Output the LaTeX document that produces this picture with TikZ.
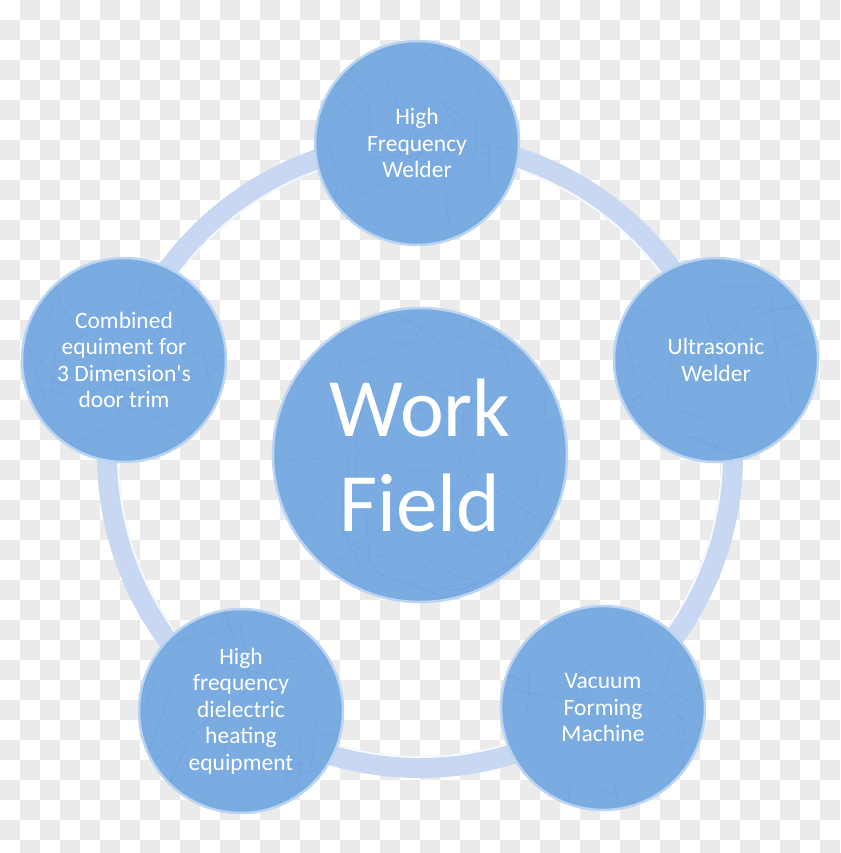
\documentclass[tikz,border=0pt]{standalone}
\usepackage{fontspec}
\setmainfont{Carlito}[Ligatures=TeXOff]
\definecolor{bubble}{RGB}{122,171,225}
\definecolor{rim}{RGB}{186,212,242}
\definecolor{ringc}{RGB}{200,216,242}
\definecolor{check}{RGB}{235,235,235}
\definecolor{scr}{RGB}{85,145,212}
\begin{document}
\begin{tikzpicture}[x=1pt,y=-1pt,
  scratch/.style={draw=scr, line width=0.4pt, opacity=0.3},
  bub/.style={circle, fill=bubble, draw=rim, line width=2.5pt, inner sep=0pt,
    minimum size=204pt, text=white, align=center,
    font=\fontsize{23.5}{26.5}\selectfont,
    path picture={\foreach \k in {1,...,80}{%
      \pgfmathsetmacro\ax{(rnd-0.5)*300}%
      \pgfmathsetmacro\ay{(rnd-0.5)*300}%
      \pgfmathsetmacro\an{rnd*180+20}%
      \pgfmathsetmacro\ln{rnd*60+25}%
      \path[scratch] ([shift={(\ax pt,\ay pt)}]path picture bounding box.center) -- ++(\an:\ln pt);}}},
  ringline/.style={draw=ringc, line width=22pt},
  ringhi/.style={draw=white, line width=2pt, opacity=0.85}]
\pgfmathsetseed{17}
\useasboundingbox (0,0) rectangle (840,853);
\fill[white] (0,0) rectangle (840,853);
\foreach \i in {0,...,41}{\foreach \j in {0,...,42}{%
  \pgfmathtruncatemacro\p{mod(\i+\j,2)}%
  \ifnum\p=1 \fill[check] (\i*20,\j*20) rectangle ++(20,20);\fi}}
\coordinate (c) at (420,455);
\path[ringline] (c) circle[radius=312pt];
\path[ringhi] (c) circle[radius=302pt];
\node[bub, minimum size=294pt, font=\fontsize{83}{95}\selectfont] (wf) at (c) {Work\\Field};
\node[bub] (hf) at (417,143) {High\\Frequency\\Welder};
\node[bub] (uw) at (716,360) {Ultrasonic\\Welder};
\node[bub] (vf) at (603,708) {Vacuum\\Forming\\Machine};
\node[bub] (hd) at (241,711) {High\\frequency\\dielectric\\heating\\equipment};
\node[bub] (ce) at (124,360) {Combined\\equiment for\\3 Dimension's\\door trim};
\end{tikzpicture}
\end{document}
